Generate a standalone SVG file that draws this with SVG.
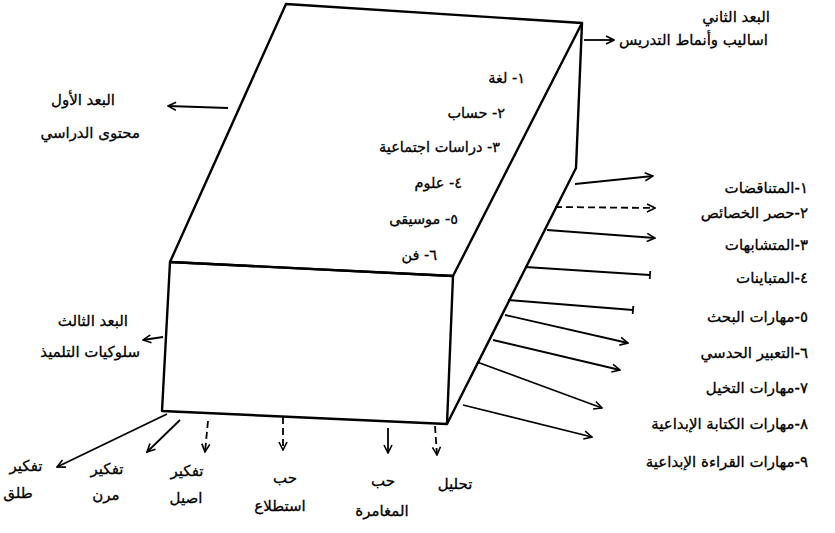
<svg xmlns="http://www.w3.org/2000/svg" width="835" height="533" viewBox="0 0 835 533">
<style>
  .edge{fill:none;stroke:#000;stroke-width:2.4;stroke-linejoin:round}
  .c{fill:none;stroke:#000;stroke-width:1.8}
  .d{stroke-dasharray:7,4}
  .t{font-family:"DejaVu Sans","Noto Sans",sans-serif;font-size:15px;fill:#000;stroke:#000;stroke-width:0.3;direction:rtl;unicode-bidi:embed}
  .s{font-size:14.5px}
  .r{text-anchor:start}
  .m{text-anchor:middle}
</style>
<defs>
  <marker id="ah" viewBox="0 0 10 10" refX="9" refY="5" markerWidth="10" markerHeight="10" markerUnits="userSpaceOnUse" orient="auto">
    <path d="M1,1 L9,5 L1,9" fill="none" stroke="#000" stroke-width="1.6"/>
  </marker>
  <marker id="tk" viewBox="0 0 10 10" refX="5" refY="5" markerWidth="10" markerHeight="10" markerUnits="userSpaceOnUse" orient="auto">
    <path d="M5,1 L5,9" fill="none" stroke="#000" stroke-width="1.8"/>
  </marker>
</defs>
<rect width="835" height="533" fill="#fff"/>

<g id="box">
  <polygon class="edge" points="286,4 582,23 453,276 170,262"/>
  <polygon class="edge" points="170,262 453,276 447,424 162,411"/>
  <polyline class="edge" points="582,23 576,168 447,424"/>
  <text class="t s r" x="525" y="83">١- لغة</text>
  <text class="t s r" x="505" y="118">٢- حساب</text>
  <text class="t s r" x="500" y="152">٣- دراسات اجتماعية</text>
  <text class="t s r" x="462" y="188">٤- علوم</text>
  <text class="t s r" x="458" y="224">٥-  موسيقى</text>
  <text class="t s r" x="437" y="260">٦- فن</text>
</g>

<g id="connectors">
  <line class="c" x1="228" y1="108" x2="168" y2="106" marker-end="url(#ah)"/>
  <line class="c" x1="584" y1="40" x2="614" y2="40" marker-end="url(#ah)"/>
  <line class="c" x1="163" y1="337" x2="143" y2="340" marker-end="url(#ah)"/>
  <line class="c" x1="575" y1="184" x2="653" y2="176" marker-end="url(#ah)"/>
  <line class="c d" x1="555" y1="207" x2="655" y2="208" marker-end="url(#ah)"/>
  <line class="c" x1="547" y1="230" x2="655" y2="238" marker-end="url(#ah)"/>
  <line class="c" x1="525" y1="267" x2="650" y2="275" marker-end="url(#tk)"/>
  <line class="c" x1="508" y1="300" x2="633" y2="310" marker-end="url(#tk)"/>
  <line class="c" x1="505" y1="315" x2="628" y2="343" marker-end="url(#ah)"/>
  <line class="c" x1="493" y1="340" x2="620" y2="370" marker-end="url(#ah)"/>
  <line class="c" x1="477" y1="362" x2="602" y2="408" marker-end="url(#ah)"/>
  <line class="c" x1="463" y1="405" x2="592" y2="437" marker-end="url(#ah)"/>
  <line class="c" x1="167" y1="414" x2="57" y2="467" marker-end="url(#ah)"/>
  <line class="c" x1="180" y1="420" x2="147" y2="452" marker-end="url(#ah)"/>
  <line class="c d" x1="208" y1="421" x2="205" y2="452" marker-end="url(#ah)"/>
  <line class="c d" x1="283" y1="417" x2="283" y2="450" marker-end="url(#ah)"/>
  <line class="c" x1="388" y1="428" x2="388" y2="453" marker-end="url(#ah)"/>
  <line class="c d" x1="435" y1="426" x2="437" y2="455" marker-end="url(#ah)"/>
</g>

<g id="dim1">
  <text class="t r" x="115" y="105">البعد الأول</text>
  <text class="t r" x="140" y="138">محتوى الدراسي</text>
</g>
<g id="dim2">
  <text class="t r" x="770" y="22">البعد الثاني</text>
  <text class="t r" x="768" y="45">اساليب وأنماط التدريس</text>
</g>
<g id="dim3">
  <text class="t r" x="128" y="326">البعد الثالث</text>
  <text class="t r" x="140" y="357">سلوكيات التلميذ</text>
</g>

<g id="skills">
  <text class="t r" x="808" y="193">١-المتناقضات</text>
  <text class="t r" x="808" y="218">٢-حصر الخصائص</text>
  <text class="t r" x="808" y="250">٣-المتشابهات</text>
  <text class="t r" x="808" y="283">٤-المتباينات</text>
  <text class="t r" x="808" y="322">٥-مهارات البحث</text>
  <text class="t r" x="808" y="358">٦-التعبير الحدسي</text>
  <text class="t r" x="808" y="393">٧-مهارات التخيل</text>
  <text class="t r" x="808" y="429">٨-مهارات الكتابة الإبداعية</text>
  <text class="t r" x="808" y="467">٩-مهارات القراءة الإبداعية</text>
</g>

<g id="b1">
  <text class="t m" x="26" y="471">تفكير</text>
  <text class="t m" x="18" y="498">طلق</text>
</g>
<g id="b2">
  <text class="t m" x="107" y="474">تفكير</text>
  <text class="t m" x="106" y="500">مرن</text>
</g>
<g id="b3">
  <text class="t m" x="187" y="476">تفكير</text>
  <text class="t m" x="186" y="503">اصيل</text>
</g>
<g id="b4">
  <text class="t m" x="285" y="483">حب</text>
  <text class="t m" x="280" y="511">استطلاع</text>
</g>
<g id="b5">
  <text class="t m" x="383" y="486">حب</text>
  <text class="t m" x="382" y="516">المغامرة</text>
</g>
<g id="b6">
  <text class="t m" x="455" y="489">تحليل</text>
</g>
</svg>
